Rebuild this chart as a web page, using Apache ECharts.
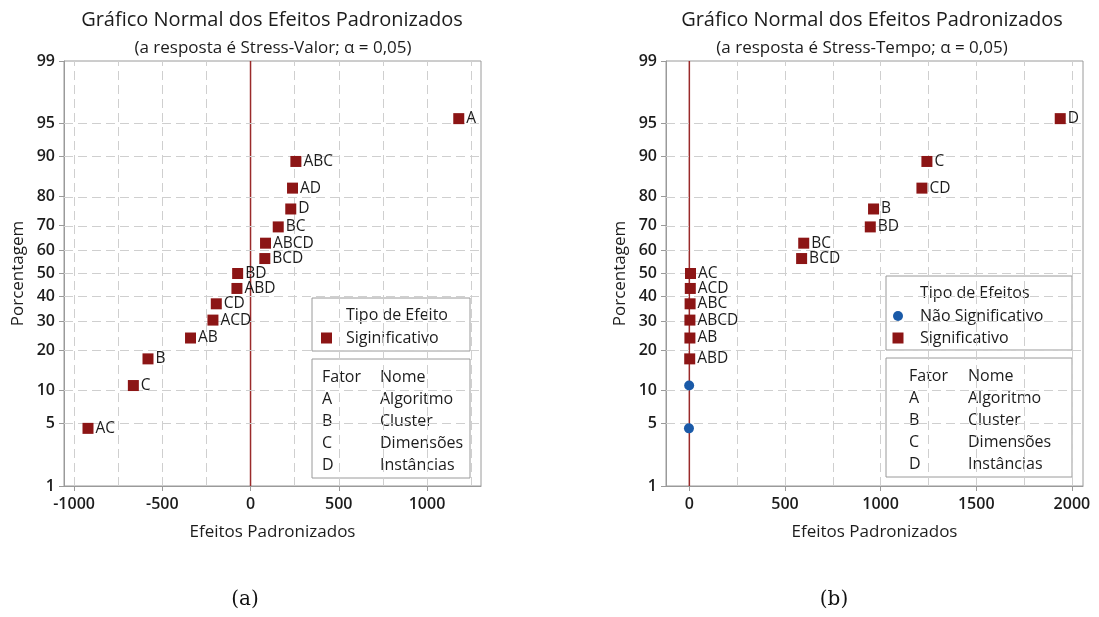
<!DOCTYPE html>
<html>
<head>
<meta charset="utf-8">
<script src="https://cdn.jsdelivr.net/npm/echarts@6/dist/echarts.min.js"></script>
<style>
  html, body { margin: 0; padding: 0; background: #fff; }
  #chart { width: 1099px; height: 617px; }
</style>
</head>
<body>
<div id="chart"></div>
<script>
// ---- Stress-Valor (a) ----
const termsA   = ['AC', 'C', 'B', 'AB', 'ACD', 'CD', 'ABD', 'BD', 'BCD', 'ABCD', 'BC', 'D', 'AD', 'ABC', 'A'];
const effectsA = [-921, -664, -581, -340, -213, -194, -77, -73, 81, 85, 157, 228, 238, 257, 1180];
const pctA     = [4.5, 11, 17.5, 24, 30.5, 37, 43.5, 50, 56.5, 63, 69.5, 76, 82.5, 89, 95.5];

// ---- Stress-Tempo (b) ----
const termsB   = ['ABD', 'AB', 'ABCD', 'ABC', 'ACD', 'AC', 'BCD', 'BC', 'BD', 'B', 'CD', 'C', 'D'];
const effectsB = [2, 3, 3, 4, 5, 6, 587, 598, 946, 963, 1216, 1242, 1939];
const pctB     = [17.5, 24, 30.5, 37, 43.5, 50, 56.5, 63, 69.5, 76, 82.5, 89, 95.5];
const effectsBns = [-2, -1];
const pctBns     = [4.5, 11];

// axis ticks
const pctTicks = [1, 5, 10, 20, 30, 40, 50, 60, 70, 80, 90, 95, 99];
const xTicksA  = [-1000, -500, 0, 500, 1000];
const xGridA   = [-1000, -750, -500, -250, 250, 500, 750, 1000, 1250];
const xTicksB  = [0, 500, 1000, 1500, 2000];
const xGridB   = [250, 500, 750, 1000, 1250, 1500, 1750, 2000];

const factors = ['A', 'B', 'C', 'D'];
const factorNames = ['Algoritmo', 'Cluster', 'Dimensões', 'Instâncias'];

// inverse standard normal CDF (Acklam)
function probit(p) {
  const a = [-3.969683028665376e+01, 2.209460984245205e+02, -2.759285104469687e+02, 1.383577518672690e+02, -3.066479806614716e+01, 2.506628277459239e+00];
  const b = [-5.447609879822406e+01, 1.615858368580409e+02, -1.556989798598866e+02, 6.680131188771972e+01, -1.328068155288572e+01];
  const c = [-7.784894002430293e-03, -3.223964580411365e-01, -2.400758277161838e+00, -2.549732539343734e+00, 4.374664141464968e+00, 2.938163982698783e+00];
  const d = [7.784695709041462e-03, 3.224671290700398e-01, 2.445134137142996e+00, 3.754408661907416e+00];
  const plow = 0.02425;
  let q, r;
  if (p < plow) {
    q = Math.sqrt(-2 * Math.log(p));
    return (((((c[0]*q + c[1])*q + c[2])*q + c[3])*q + c[4])*q + c[5]) / ((((d[0]*q + d[1])*q + d[2])*q + d[3])*q + 1);
  }
  if (p > 1 - plow) {
    q = Math.sqrt(-2 * Math.log(1 - p));
    return -(((((c[0]*q + c[1])*q + c[2])*q + c[3])*q + c[4])*q + c[5]) / ((((d[0]*q + d[1])*q + d[2])*q + d[3])*q + 1);
  }
  q = p - 0.5; r = q * q;
  return (((((a[0]*r + a[1])*r + a[2])*r + a[3])*r + a[4])*r + a[5])*q / (((((b[0]*r + b[1])*r + b[2])*r + b[3])*r + b[4])*r + 1);
}
const z = pct => probit(pct / 100);
const yTickZ = pctTicks.map(z);
const yMin = z(1), yMax = z(99);

const FONT = '"Open Sans", "Noto Sans", sans-serif';
const RED = '#8c1515';
const LINE = '#9a2a2a';
const BLUE = '#1a5aa8';
const TXT = '#1c1c1c';
const FRAME = '#9a9a9a';
const GRIDC = '#cfcfcf';
const LEG_FONT = '500 16px ' + FONT;

function points(effects, pcts, terms) {
  return effects.map((e, i) => ({ value: [e, z(pcts[i])], name: terms ? terms[i] : '' }));
}

function gridLines(xs) {
  return {
    silent: true,
    symbol: 'none',
    label: { show: false },
    lineStyle: { color: GRIDC, type: [9, 5], width: 1 },
    data: xs.map(v => ({ xAxis: v })).concat(yTickZ.slice(1, -1).map(v => ({ yAxis: v })))
  };
}

function xAxis(gi, min, max, ticks) {
  return {
    gridIndex: gi, type: 'value', min: min, max: max,
    name: 'Efeitos Padronizados', nameLocation: 'middle', nameGap: 38,
    nameTextStyle: { fontFamily: FONT, fontSize: 17, fontWeight: 500, color: TXT },
    axisLine: { show: true, onZero: false, lineStyle: { color: FRAME } },
    axisTick: { show: true, customValues: ticks, length: 5, lineStyle: { color: FRAME } },
    axisLabel: { customValues: ticks, fontFamily: FONT, fontSize: 16, fontWeight: 600, color: TXT, margin: 10,
      formatter: v => String(Math.round(v)) },
    splitLine: { show: false }
  };
}
function yAxis(gi) {
  return {
    gridIndex: gi, type: 'value', min: yMin, max: yMax,
    name: 'Porcentagem', nameLocation: 'middle', nameGap: 37, nameRotate: 90,
    nameTextStyle: { fontFamily: FONT, fontSize: 17, fontWeight: 500, color: TXT },
    axisLine: { show: true, onZero: false, lineStyle: { color: FRAME } },
    axisTick: { show: true, customValues: yTickZ, length: 5, lineStyle: { color: FRAME } },
    axisLabel: {
      customValues: yTickZ, fontFamily: FONT, fontSize: 16, fontWeight: 600, color: TXT, margin: 9,
      formatter: v => {
        let best = 0, bd = Infinity;
        yTickZ.forEach((t, i) => { const dd = Math.abs(t - v); if (dd < bd) { bd = dd; best = i; } });
        return String(pctTicks[best]);
      }
    },
    splitLine: { show: false }
  };
}

const labelStyle = {
  show: true, position: 'right', distance: 2, formatter: '{b}',
  fontFamily: FONT, fontSize: 15.5, fontWeight: 500, color: TXT
};

// legend boxes: effect type on top, factor table below
function legendBlocks(L) {
  const els = [];
  const h1 = L.withNs ? 74 : 53;
  const txt = (x, y, s) => ({ type: 'text', x: x, y: y,
    style: { text: s, font: LEG_FONT, fill: TXT, textVerticalAlign: 'middle' } });
  els.push({ type: 'rect', shape: { x: L.x0, y: L.top, width: L.w, height: h1 },
    style: { fill: '#fff', stroke: FRAME, lineWidth: 1 } });
  els.push(txt(L.x0 + 34, L.top + 17.5, L.title));
  let yy = L.top + 40;
  if (L.withNs) {
    els.push({ type: 'circle', shape: { cx: L.x0 + 12, cy: yy, r: 5 }, style: { fill: BLUE } });
    els.push(txt(L.x0 + 34, yy, 'Não Significativo'));
    yy += 22;
  }
  els.push({ type: 'rect', shape: { x: L.x0 + (L.withNs ? 6.5 : 9), y: yy - 5.5, width: 11, height: 11 }, style: { fill: RED } });
  els.push(txt(L.x0 + 34, yy, L.sigName));
  const top2 = L.top + h1 + 8;
  els.push({ type: 'rect', shape: { x: L.x0, y: top2, width: L.w, height: 119 },
    style: { fill: '#fff', stroke: FRAME, lineWidth: 1 } });
  const rows = [['Fator', 'Nome']].concat(factors.map((f, i) => [f, factorNames[i]]));
  rows.forEach((r, i) => {
    const ry = top2 + 18.5 + i * 21.9;
    els.push(txt(L.x0 + L.c1, ry, r[0]));
    els.push(txt(L.x0 + L.c2, ry, r[1]));
  });
  return els;
}

const chart = echarts.init(document.getElementById('chart'), null, { renderer: 'canvas' });
chart.setOption({
  animation: false,
  backgroundColor: '#ffffff',
  title: [
    { text: 'Gráfico Normal dos Efeitos Padronizados', left: 267, top: 5, textAlign: 'center',
      textStyle: { fontFamily: FONT, fontSize: 20, fontWeight: 500, color: TXT } },
    { text: '(a resposta é Stress-Valor; α = 0,05)', left: 268, top: 35, textAlign: 'center',
      textStyle: { fontFamily: FONT, fontSize: 17, fontWeight: 'normal', color: TXT } },
    { text: 'Gráfico Normal dos Efeitos Padronizados', left: 867, top: 5, textAlign: 'center',
      textStyle: { fontFamily: FONT, fontSize: 20, fontWeight: 500, color: TXT } },
    { text: '(a resposta é Stress-Tempo; α = 0,05)', left: 857, top: 35, textAlign: 'center',
      textStyle: { fontFamily: FONT, fontSize: 17, fontWeight: 'normal', color: TXT } },
    { text: '(a)', left: 240, top: 585, textAlign: 'center',
      textStyle: { fontFamily: '"DejaVu Serif", "Liberation Serif", serif', fontSize: 20, fontWeight: 'normal', color: '#111' } },
    { text: '(b)', left: 829, top: 585, textAlign: 'center',
      textStyle: { fontFamily: '"DejaVu Serif", "Liberation Serif", serif', fontSize: 20, fontWeight: 'normal', color: '#111' } }
  ],
  grid: [
    { left: 64, top: 61, width: 417, height: 425, show: true, borderColor: FRAME, borderWidth: 1, backgroundColor: '#fff' },
    { left: 666, top: 61, width: 417, height: 425, show: true, borderColor: FRAME, borderWidth: 1, backgroundColor: '#fff' }
  ],
  xAxis: [xAxis(0, -1057, 1306, xTicksA), xAxis(1, -122, 2058, xTicksB)],
  yAxis: [yAxis(0), yAxis(1)],
  series: [
    { type: 'line', xAxisIndex: 0, yAxisIndex: 0, data: [[0, yMin], [0, yMax]],
      symbol: 'none', silent: true, lineStyle: { color: LINE, width: 1.5 }, z: 3,
      markLine: gridLines(xGridA) },
    { type: 'scatter', name: 'Siginificativo', xAxisIndex: 0, yAxisIndex: 0,
      data: points(effectsA, pctA, termsA), symbol: 'rect', symbolSize: 11,
      itemStyle: { color: RED, opacity: 1 }, label: labelStyle, z: 5 },
    { type: 'line', xAxisIndex: 1, yAxisIndex: 1, data: [[0, yMin], [0, yMax]],
      symbol: 'none', silent: true, lineStyle: { color: LINE, width: 1.5 }, z: 3,
      markLine: gridLines(xGridB) },
    { type: 'scatter', name: 'Não Significativo', xAxisIndex: 1, yAxisIndex: 1,
      data: points(effectsBns, pctBns), symbol: 'circle', symbolSize: 10,
      itemStyle: { color: BLUE, opacity: 1 }, z: 5 },
    { type: 'scatter', name: 'Significativo', xAxisIndex: 1, yAxisIndex: 1,
      data: points(effectsB, pctB, termsB), symbol: 'rect', symbolSize: 11,
      itemStyle: { color: RED, opacity: 1 }, label: labelStyle, z: 5 }
  ],
  graphic: legendBlocks({ x0: 312, w: 158, top: 298, withNs: false, title: 'Tipo de Efeito',
                          sigName: 'Siginificativo', c1: 10, c2: 68 })
    .concat(legendBlocks({ x0: 886, w: 186, top: 276, withNs: true, title: 'Tipo de Efeitos',
                           sigName: 'Significativo', c1: 23, c2: 82 }))
});
</script>
</body>
</html>
